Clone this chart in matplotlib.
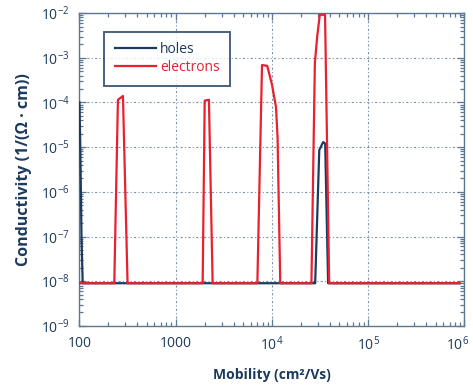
import numpy as np
import matplotlib
matplotlib.use("Agg")
import matplotlib.pyplot as plt
import matplotlib.transforms as mtransforms
from matplotlib.ticker import FixedLocator, LogLocator, NullFormatter

plt.rcParams['font.family'] = ['Open Sans', 'DejaVu Sans']
plt.rcParams['mathtext.fontset'] = 'custom'
plt.rcParams['mathtext.rm'] = 'Open Sans:bold'
plt.rcParams['mathtext.default'] = 'regular'

NAVY = '#1c3a5e'
RED = '#e8202f'
SPINE = '#5d7892'
GRID = '#7f93a8'

# holes: mobility (cm2/Vs) vs conductivity (1/(Ohm cm))
holes_mu = [100, 102, 105, 108, 28100, 31000, 34000, 35700, 38300, 887000]
holes_sig = [1e-4, 1e-5, 1e-7, 9e-9, 9e-9, 8.6e-6, 1.3e-5, 1.2e-5, 9e-9, 9e-9]

# electrons
elec_mu = [100, 230, 251, 283, 316,
           1905, 2000, 2213, 2418,
           7050, 7880, 8930, 10000, 11000, 11430, 12190,
           25700, 27900, 29500, 31400, 35600, 39300, 887000]
elec_sig = [9e-9, 9e-9, 1.15e-4, 1.4e-4, 9e-9,
            9e-9, 1.1e-4, 1.15e-4, 9e-9,
            9e-9, 6.9e-4, 6.6e-4, 2.5e-4, 8e-5, 1.7e-5, 9e-9,
            9e-9, 7.6e-4, 3e-3, 9.2e-3, 9.2e-3, 9e-9, 9e-9]

x_ticks = [1e2, 1e3, 1e4, 1e5, 1e6]
x_labels = ['100', '1000', r'$10^{4}$', r'$10^{5}$', r'$10^{6}$']
y_ticks = [1e-9, 1e-8, 1e-7, 1e-6, 1e-5, 1e-4, 1e-3, 1e-2]
y_labels = [r'$10^{-%d}$' % n for n in range(9, 1, -1)]

fig = plt.figure(figsize=(4.73, 3.87), dpi=100)
ax = fig.add_axes([0.168, 0.158, 0.814, 0.808])

ax.plot(holes_mu, holes_sig, color=NAVY, lw=1.6, label='holes', zorder=3)
ax.plot(elec_mu, elec_sig, color=RED, lw=1.6, label='electrons', zorder=4)

ax.set_xscale('log')
ax.set_yscale('log')
ax.set_xlim(1e2, 1e6)
ax.set_ylim(1e-9, 1e-2)

ax.xaxis.set_major_locator(FixedLocator(x_ticks))
ax.set_xticklabels(x_labels)
ax.yaxis.set_major_locator(FixedLocator(y_ticks))
ax.set_yticklabels(y_labels)
ax.xaxis.set_minor_locator(LogLocator(base=10, subs=np.arange(2, 10)))
ax.yaxis.set_minor_locator(LogLocator(base=10, subs=np.arange(2, 10)))
ax.xaxis.set_minor_formatter(NullFormatter())
ax.yaxis.set_minor_formatter(NullFormatter())

ax.tick_params(which='both', direction='in', top=True, right=True,
               color=SPINE, width=0.9)
ax.tick_params(which='major', length=5, labelsize=10, labelcolor=NAVY, pad=7)
ax.tick_params(which='minor', length=3)

# nudge the last x label so it stays inside the figure
last = ax.get_xticklabels()[-1]
last.set_transform(last.get_transform() +
                   mtransforms.ScaledTranslation(-5 / 72, 0, fig.dpi_scale_trans))

for s in ax.spines.values():
    s.set_color(SPINE)
    s.set_linewidth(1.0)

ax.grid(True, which='major', color=GRID, lw=0.8, linestyle=(0, (2, 2, 1, 2)))

ax.set_xlabel('Mobility (cm²/Vs)', fontsize=10, fontweight='bold',
              color=NAVY, labelpad=10)
ax.set_ylabel('Conductivity (1/(Ω · cm))', fontsize=11.5, fontweight='bold',
              color=NAVY, labelpad=6)

leg = ax.legend(loc='upper left', bbox_to_anchor=(0.064, 0.94),
                fontsize=10, frameon=True, fancybox=False,
                handlelength=3.0, handletextpad=0.3, borderpad=0.75,
                labelspacing=0.2, borderaxespad=0)
leg.get_frame().set_edgecolor(NAVY)
leg.get_frame().set_linewidth(1.4)
for txt, c in zip(leg.get_texts(), [NAVY, RED]):
    txt.set_color(c)

fig.savefig('out.png', dpi=100)
